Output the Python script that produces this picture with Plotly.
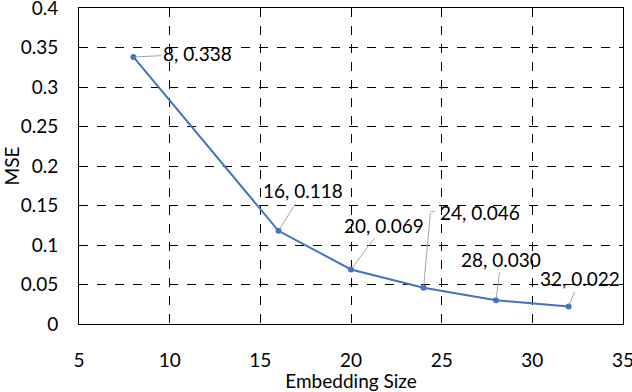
import plotly.graph_objects as go

embedding_size = [8, 16, 20, 24, 28, 32]
mse = [0.338, 0.118, 0.069, 0.046, 0.030, 0.022]
point_labels = ["8, 0.338", "16, 0.118", "20, 0.069", "24, 0.046", "28, 0.030", "32, 0.022"]
label_dx = [64, 25, 33, 56, 5, 11]
label_dy = [-3, -40, -44, -75, -41, -28]
bent_leader = [False, False, False, True, False, False]
x_ticks = [5, 10, 15, 20, 25, 30, 35]
y_ticks = [0, 0.05, 0.1, 0.15, 0.2, 0.25, 0.3, 0.35, 0.4]
y_ticktext = ["0", "0.05", "0.1", "0.15", "0.2", "0.25", "0.3", "0.35", "0.4"]

FONT = "Lato, Calibri, Carlito, sans-serif"
FS = 19
LEADER = "#A6A6A6"

fig = go.Figure()
fig.add_trace(go.Scatter(
    x=embedding_size, y=mse, mode="lines+markers",
    line=dict(color="#4472C4", width=2),
    marker=dict(color="#4472C4", size=6),
    showlegend=False, hoverinfo="skip",
))

for x, y, t, dx, dy, bent in zip(embedding_size, mse, point_labels, label_dx, label_dy, bent_leader):
    if not bent:
        fig.add_annotation(
            x=x, y=y, text=t, showarrow=True, ax=dx, ay=dy,
            axref="pixel", ayref="pixel",
            arrowhead=0, arrowwidth=1, arrowcolor=LEADER,
            font=dict(family=FONT, size=FS, color="black"),
            standoff=2,
        )
    else:
        # elbow leader: near-vertical segment then short horizontal tick
        fig.add_annotation(
            x=x, y=y, text="", showarrow=True, ax=7, ay=dy - 1,
            axref="pixel", ayref="pixel",
            arrowhead=0, arrowwidth=1, arrowcolor=LEADER, standoff=2,
        )
        fig.add_annotation(
            x=x, y=y, text="", showarrow=True, ax=6, ay=0,
            axref="pixel", ayref="pixel", xshift=7, yshift=-(dy - 1),
            arrowhead=0, arrowwidth=1, arrowcolor=LEADER,
        )
        fig.add_annotation(
            x=x, y=y, text=t, showarrow=False, xshift=dx, yshift=-dy,
            font=dict(family=FONT, size=FS, color="black"),
        )

fig.update_layout(
    width=632, height=392,
    margin=dict(l=79, r=9, t=8, b=68),
    paper_bgcolor="white", plot_bgcolor="white",
    font=dict(family=FONT, size=FS, color="black"),
    xaxis=dict(
        range=[5, 35], tickvals=x_ticks, automargin=False, ticklabeloverflow="allow",
        showline=True, linecolor="black", linewidth=1, mirror=True,
        showgrid=True, gridcolor="black", griddash="dash", gridwidth=1,
        zeroline=False, ticks="outside", ticklen=19, tickcolor="white",
        title=dict(text="Embedding Size", font=dict(size=FS)),
    ),
    yaxis=dict(
        range=[0, 0.4], tickvals=y_ticks, ticktext=y_ticktext, automargin=False,
        ticklabeloverflow="allow",
        showline=True, linecolor="black", linewidth=1, mirror=True,
        showgrid=True, gridcolor="black", griddash="dash", gridwidth=1,
        zeroline=False, ticks="outside", ticklen=16, tickcolor="white",
        title=dict(text="MSE", font=dict(size=FS)),
    ),
)

fig.write_html(
    "out.html",
    config={"displayModeBar": False},
    post_script="document.body.style.margin='0';document.body.style.overflow='hidden';",
)
